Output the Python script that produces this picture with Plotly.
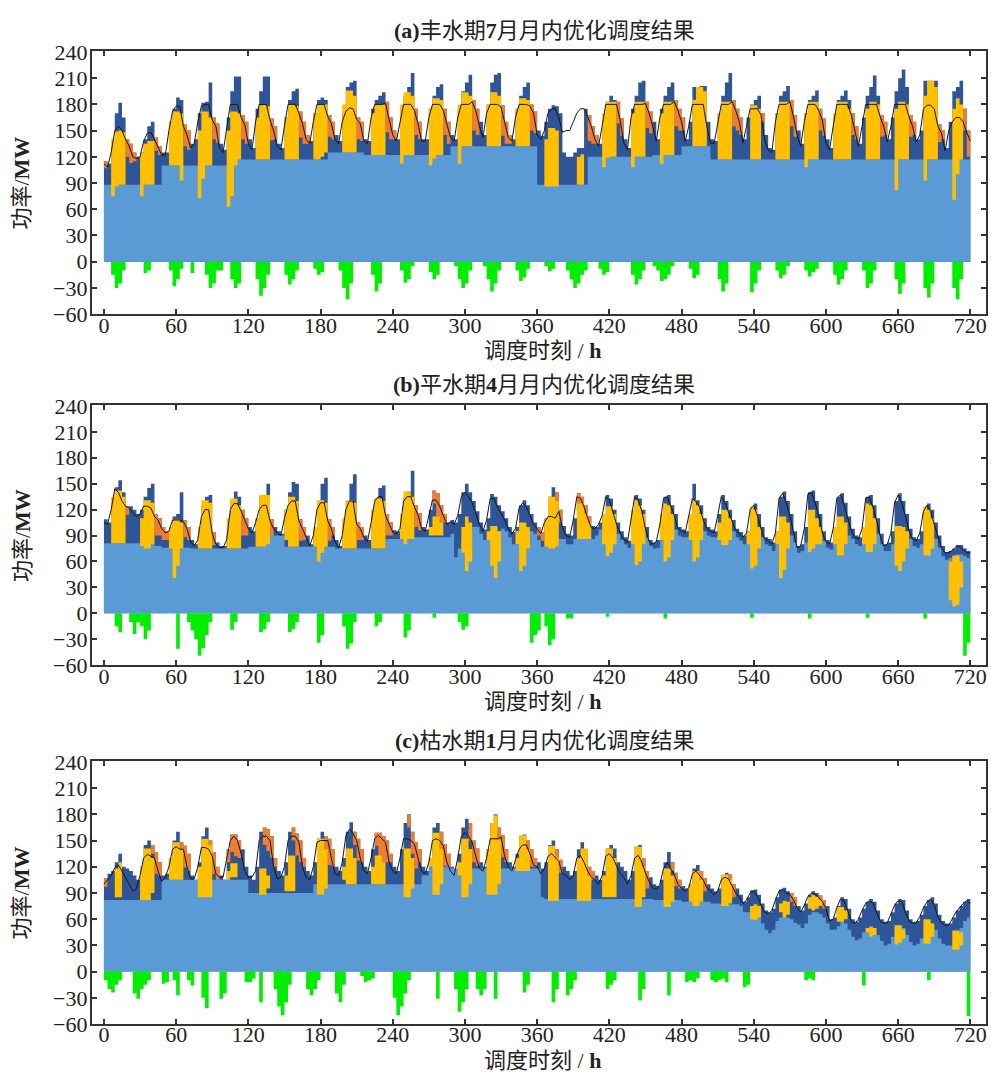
import numpy as np
import plotly.graph_objects as go

# ---------------- axes / labels ----------------
HOURS = list(range(0, 721, 3))          # sampling hours (3-h steps)
X_TICKS = [0, 60, 120, 180, 240, 300, 360, 420, 480, 540, 600, 660, 720]
Y_TICKS = [-60, -30, 0, 30, 60, 90, 120, 150, 180, 210, 240]
TITLES = ["<b>(a)</b>丰水期<b>7</b>月月内优化调度结果",
          "<b>(b)</b>平水期<b>4</b>月月内优化调度结果",
          "<b>(c)</b>枯水期<b>1</b>月月内优化调度结果"]
X_TITLE = "调度时刻 / <b>h</b>"
Y_TITLE = "功率/<b>MW</b>"

# ---------------- panel (a) July ----------------
# each row = one day, values at hour-of-day 0,3,6,9,12,15,18,21
A_TOTAL = [
 [115,112,130,170,182,165,140,135],[125,120,125,140,155,160,142,132],[125,125,160,175,188,185,157,150],
 [135,140,170,182,183,205,165,158],[135,128,165,195,212,212,168,160],[140,130,175,195,212,212,164,155],
 [135,130,165,185,195,198,172,160],[145,138,170,185,188,185,168,160],[145,138,170,200,205,207,165,160],
 [140,138,175,185,190,194,183,165],[150,140,170,190,200,216,175,160],[140,140,175,190,200,203,175,160],
 [145,140,175,195,205,214,185,175],[160,145,180,205,214,216,179,160],[145,140,175,190,200,205,180,172],
 [150,144,160,175,179,178,170,125],[120,120,125,130,130,175,168,155],[145,135,160,183,190,185,183,164],
 [140,130,175,190,205,207,183,172],[160,140,175,190,200,205,185,175],[165,140,160,200,200,201,201,160],
 [140,138,170,190,205,216,185,175],[165,140,165,180,185,190,170,145],[130,128,170,190,195,201,185,168],
 [150,135,170,185,190,196,175,164],[140,130,165,185,190,196,185,170],[155,135,165,190,200,213,190,168],
 [160,140,165,195,210,220,200,168],[160,140,150,207,207,207,207,157],[150,130,160,195,200,207,175,150]]
A_TOTAL_END = 140
A_BASE = [
 [88]*8,[88]*8,[110]*8,[110]*8,[110,110,110,110,117,117,117,117],[117]*8,[117]*8,
 [117,117,117,117,117,117,125,125],[125]*8,[122]*8,[122]*8,[122]*8,[132]*8,[132]*8,[132]*8,
 [88]*8,[88,88,88,88,88,88,120,120],[120]*8,[120]*8,[122]*8,[132]*8,
 [117]*8,[117]*8,[117]*8,[117]*8,[117]*8,[117]*8,[117]*8,[117]*8,[117]*8]
A_BASE_END = 117
A_YBOT = [
 [0,0,75,86,88,88,0,0],[0,0,75,88,88,88,0,0],[0,0,110,110,110,93,0,0],[0,0,73,95,110,110,0,0],
 [0,0,63,75,110,117,0,0],[0,0,117,117,117,117,0,0],[0,0,117,117,117,117,0,0],[0,0,117,117,120,125,0,0],
 [0,0,125,125,125,125,0,0],[0,0,122,122,122,122,0,0],[0,0,112,122,122,122,0,0],[0,0,110,118,122,122,0,0],
 [0,0,112,132,132,132,0,0],[0,0,132,132,132,132,0,0],[0,0,132,132,132,132,0,0],[0,0,86,86,86,86,0,0],
 [0,0,0,88,88,0,0,0],[0,0,108,119,120,120,0,0],[0,0,108,120,120,120,0,0],[0,0,112,122,122,122,0,0],
 [0,0,0,132,132,132,132,0],[0,0,117,117,117,117,0,0],[0,0,0,117,117,117,0,0],[0,0,117,117,117,117,0,0],
 [0,0,108,117,117,117,0,0],[0,0,117,117,117,117,117,0],[0,0,0,117,117,117,117,0],[0,0,0,82,117,117,117,0],
 [0,0,0,93,117,117,117,0],[0,0,0,71,100,117,0,0]]
A_YTOP = [
 [0,0,140,149,150,148,0,0],[0,0,125,135,138,138,0,0],[0,0,160,172,172,170,0,0],[0,0,150,172,172,165,0,0],
 [0,0,150,172,172,170,0,0],[0,0,165,179,180,178,0,0],[0,0,165,180,180,178,0,0],[0,0,170,180,180,180,0,0],
 [0,0,180,196,196,190,0,0],[0,0,170,180,180,180,0,0],[0,0,180,194,194,190,0,0],[0,0,175,187,187,185,0,0],
 [0,0,180,194,194,190,0,0],[0,0,180,194,194,190,0,0],[0,0,175,187,187,185,0,0],[0,0,140,153,153,150,0,0],
 [0,0,0,120,123,0,0,0],[0,0,170,183,183,183,0,0],[0,0,170,183,183,183,0,0],[0,0,170,183,183,183,0,0],
 [0,0,0,185,200,200,195,0],[0,0,170,183,183,183,0,0],[0,0,0,179,179,175,0,0],[0,0,170,183,183,183,0,0],
 [0,0,170,183,183,183,0,0],[0,0,170,183,183,183,175,0],[0,0,0,175,183,183,180,0],[0,0,0,175,183,183,180,0],
 [0,0,0,190,207,207,200,0],[0,0,0,175,187,180,0,0]]
A_ORG = [
 [8,0,0,0,0,0,20,22],[10,0,0,0,0,0,15,10],[0,0,0,0,0,0,25,22],[0,0,0,0,0,0,25,22],[0,0,0,0,0,0,28,25],
 [0,0,0,0,0,0,25,15],[0,0,0,0,0,0,30,25],[10,0,0,0,0,0,25,20],[0,0,0,0,0,0,25,22],[0,0,0,0,0,0,35,25],
 [10,0,0,0,0,0,30,20],[0,0,0,0,0,0,30,25],[0,0,0,0,0,0,35,30],[0,0,0,0,0,0,35,25],[10,0,0,0,0,0,30,25],
 [0,0,0,0,0,0,0,0],[0,0,0,0,0,0,30,20],[10,0,0,0,0,0,25,20],[0,0,0,0,0,0,30,25],[0,0,0,0,0,0,30,25],
 [15,0,0,0,0,0,0,0],[0,0,0,0,0,0,30,25],[20,0,0,0,0,0,10,0],[0,0,0,0,0,0,30,25],[0,0,0,0,0,0,25,20],
 [0,0,0,0,0,0,0,25],[15,0,0,0,0,0,0,25],[15,0,0,0,0,0,0,25],[15,0,0,0,0,0,0,20],[10,0,0,0,0,0,25,30]]
A_ORG_END = 30
A_LOAD = [
 [112,108,125,150,155,150,140,132],[120,118,120,138,147,148,140,130],[122,122,150,172,178,178,155,145],
 [130,135,160,178,180,180,162,155],[130,125,155,180,180,180,165,157],[135,128,160,180,180,180,162,150],
 [132,128,155,180,180,180,170,158],[140,135,160,180,180,180,166,158],[140,135,160,172,176,175,163,158],
 [138,135,165,180,180,180,181,163],[145,138,160,180,180,180,173,158],[138,138,165,180,180,180,173,158],
 [142,138,165,180,180,180,183,173],[155,142,170,180,180,180,177,158],[142,138,165,180,180,180,178,170],
 [145,140,150,170,175,175,165,148],[150,150,160,170,175,175,166,155],[140,132,155,180,180,180,180,162],
 [136,128,165,180,180,180,181,170],[155,138,165,180,180,180,183,173],[160,138,155,180,180,180,180,155],
 [136,135,160,180,180,180,183,173],[160,136,155,175,175,175,168,140],[128,125,160,180,180,180,183,166],
 [145,132,160,180,180,180,173,162],[136,128,155,180,180,180,180,168],[150,132,155,180,180,180,180,166],
 [155,137,155,180,180,180,180,166],[155,137,145,175,179,179,175,155],[147,127,150,160,165,165,160,148]]
A_LOAD_END = 138
A_GREEN = [
 [0,0,15,30,25,10,0,0],[0,0,0,13,10,0,0,0],[0,0,10,28,20,8,0,0],[13,0,0,0,15,30,25,10],
 [10,0,0,20,30,25,0,0],[0,0,20,39,30,15,0,0],[0,0,15,26,20,10,0,0],[0,0,8,15,12,0,0,0],
 [0,10,30,43,25,0,0,0],[0,0,15,34,25,0,0,0],[0,0,10,24,20,5,0,0],[0,0,12,20,15,0,0,0],
 [0,5,20,30,25,10,0,0],[0,5,20,34,25,10,0,0],[0,0,10,22,18,8,0,0],[0,0,5,11,8,0,0,0],
 [10,20,30,25,15,10,0,0],[0,8,15,12,0,0,0,0],[0,0,15,26,20,10,0,0],[5,10,22,20,15,5,0,0],
 [0,0,8,19,15,0,0,0],[0,0,20,34,25,0,0,0],[0,0,0,35,25,10,0,0],[0,0,10,19,15,5,0,0],
 [0,0,10,17,12,8,0,0],[0,0,15,26,20,10,0,0],[0,0,10,30,25,10,0,0],[0,0,0,20,37,25,0,0],
 [0,0,0,30,41,25,0,0],[0,0,0,30,43,20,0,0]]

# ---------------- panel (b) April ----------------
B_TOTAL = [
 [109,105,125,146,154,140,124,124],[120,115,120,135,145,150,115,110],[100,95,100,112,115,140,108,100],
 [85,80,90,125,135,137,94,82],[78,78,90,130,141,135,120,110],[100,95,110,135,137,150,109,100],
 [95,92,120,140,152,150,109,100],[90,80,95,130,150,157,109,100],[85,78,95,130,150,161,105,100],
 [90,85,110,133,145,148,115,105],[96,95,100,135,141,165,125,116],[100,97,120,142,139,125,115,105],
 [108,105,115,140,150,140,130,118],[105,97,110,138,135,125,118,110],[100,94,100,125,131,125,115,105],
 [100,94,110,135,146,140,120,101],[92,90,110,139,135,125,112,101],[100,105,115,137,133,120,105,95],
 [88,84,110,137,133,120,100,85],[82,85,105,135,137,125,115,100],[97,95,115,150,131,125,110,100],
 [97,95,115,137,130,120,108,98],[94,90,95,122,127,115,100,88],[86,82,95,135,141,130,115,95],
 [78,80,100,140,142,130,115,95],[85,82,100,135,139,128,112,98],[90,88,100,135,137,125,110,92],
 [80,82,95,130,139,130,115,98],[88,86,95,120,127,120,105,90],[78,71,72,75,79,79,75,72]]
B_TOTAL_END = 72
B_BASE = [
 [81]*8,[81,81,80,80,80,80,78,78],[76]*8,[75]*8,[75]*8,[77,77,77,77,77,90,90,90],
 [90,90,77,77,77,77,77,77],[77]*8,[75]*8,[75,75,75,75,75,75,86,86],[86,86,88,88,88,88,88,88],[88]*8,
 [92,65,75,85,90,95,100,100],[92,85,85,85,90,95,98,95],[88,80,80,80,85,90,95,92],
 [85,77,77,77,77,77,86,86],[80,80,86,86,86,86,86,86],[90,97,97,95,95,97,92,85],
 [80,76,85,90,92,95,88,78],[75,76,85,90,95,97,97,90],[88,88,90,95,97,97,95,90],
 [88,88,90,92,95,97,95,88],[84,80,82,85,88,90,88,80],[78,72,80,85,90,92,90,82],
 [70,72,82,88,92,95,92,84],[76,74,82,86,90,92,90,86],[80,78,84,88,90,92,92,80],
 [72,72,80,84,88,90,92,86],[78,76,80,84,86,88,86,76],[66,62,64,66,68,68,66,64]]
B_BASE_END = 64
B_YBOT = [
 [0,0,81,81,81,81,0,0],[0,0,78,75,75,80,0,0],[0,0,75,41,55,75,0,0],[0,0,75,75,75,75,0,0],
 [0,0,75,75,75,75,0,0],[0,0,77,77,77,80,0,0],[0,0,85,77,77,77,0,0],[0,0,77,60,70,77,0,0],
 [0,0,75,75,75,75,0,0],[0,0,75,75,75,75,0,0],[0,0,86,80,86,86,0,0],[0,0,90,90,90,90,0,0],
 [0,0,0,70,49,60,0,0],[0,0,85,55,41,60,0,0],[0,0,80,49,55,75,0,0],[0,0,77,75,75,77,0,0],
 [0,0,0,86,86,86,86,0],[0,0,80,66,70,80,0,0],[0,0,80,56,60,80,0,0],[0,0,85,60,65,85,0,0],
 [0,0,85,60,65,85,0,0],[0,0,85,79,79,85,0,0],[0,0,80,52,55,75,0,0],[0,0,80,41,50,75,0,0],
 [0,0,0,71,75,80,80,0],[0,0,80,67,67,80,0,0],[0,0,80,71,71,80,0,0],[0,0,0,55,49,60,75,0],
 [0,0,0,67,67,75,0,0],[0,0,15,8,10,30,0,0]]
B_YTOP = [
 [0,0,135,142,142,135,0,0],[0,0,110,131,131,128,0,0],[0,0,100,109,109,105,0,0],[0,0,100,131,131,128,0,0],
 [0,0,110,133,133,125,0,0],[0,0,110,137,137,137,0,0],[0,0,120,135,135,130,0,0],[0,0,100,131,131,128,0,0],
 [0,0,110,131,131,128,0,0],[0,0,120,133,133,130,0,0],[0,0,115,141,141,135,0,0],[0,0,100,112,112,105,0,0],
 [0,0,0,100,112,105,0,0],[0,0,95,101,101,95,0,0],[0,0,95,105,105,100,0,0],[0,0,110,135,135,130,0,0],
 [0,0,0,127,127,115,105,0],[0,0,115,124,124,115,0,0],[0,0,120,131,125,115,0,0],[0,0,115,127,125,115,0,0],
 [0,0,115,131,125,115,0,0],[0,0,105,120,120,110,0,0],[0,0,95,124,120,100,0,0],[0,0,95,112,112,105,0,0],
 [0,0,0,120,120,110,100,0],[0,0,100,112,112,105,0,0],[0,0,100,127,125,110,0,0],[0,0,0,101,101,100,95,0],
 [0,0,0,124,120,110,0,0],[0,0,60,67,67,60,0,0]]
B_ORG = [
 [0,0,0,0,0,0,10,0],[0,0,0,0,0,0,25,20],[15,10,0,0,0,0,20,15],[0,0,0,0,0,0,15,0],[0,0,0,0,0,0,30,20],
 [0,0,0,0,0,0,25,0],[0,0,0,0,0,0,25,15],[0,0,0,0,0,0,25,10],[0,0,0,0,0,0,20,15],[0,0,0,0,0,0,25,15],
 [0,0,0,0,0,0,25,20],[0,0,0,15,30,20,10,0],[0]*8,[0]*8,[0]*8,
 [10,10,0,0,0,10,15,0],[0,0,0,20,25,20,15,0],[0]*8,[0]*8,[0]*8,[0]*8,[0]*8,[0]*8,[0]*8,[0]*8,
 [0]*8,[0]*8,[0]*8,[0]*8,[0]*8]
B_ORG_END = 0
B_LOAD = [
 [105,103,120,144,140,130,124,122],[116,112,115,124,124,122,112,108],[98,93,95,108,108,108,106,98],
 [83,78,85,112,120,120,92,80],[76,76,85,120,127,127,118,108],[98,93,105,120,125,125,107,98],
 [93,90,110,125,130,130,107,98],[88,78,90,120,128,128,107,98],[83,76,90,120,130,130,103,98],
 [88,83,105,130,135,135,113,103],[94,92,98,130,135,135,123,114],[98,95,115,131,131,124,113,103],
 [106,103,113,135,140,135,128,116],[103,95,108,133,133,123,116,108],[98,92,98,122,128,123,113,103],
 [98,92,105,112,112,110,118,99],[90,88,108,135,133,123,110,99],[98,103,113,135,131,118,103,93],
 [86,82,108,135,131,118,98,83],[80,83,103,133,135,123,113,98],[95,93,113,133,129,123,108,98],
 [95,93,113,135,128,118,106,96],[92,88,93,120,125,113,98,86],[84,80,93,133,139,128,113,93],
 [76,78,98,138,140,128,113,93],[83,80,98,133,137,126,110,96],[88,86,98,133,135,123,108,90],
 [78,80,93,128,137,128,113,96],[86,84,93,118,125,118,103,88],[76,70,70,73,77,77,73,70]]
B_LOAD_END = 70
B_GREEN = [
 [0,0,0,15,22,0,0,10],[24,10,15,30,20,0,0,0],[0,0,0,0,41,0,0,10],[20,30,49,40,25,10,0,0],
 [0,0,0,19,10,0,0,0],[0,0,0,22,18,10,0,0],[0,0,0,22,18,10,0,0],[0,0,0,34,25,0,0,0],
 [0,0,15,41,35,10,0,0],[0,0,0,15,10,0,0,0],[0,0,0,28,20,0,0,0],[0,0,0,5,0,0,0,0],
 [0,0,10,19,15,0,0,0],[0]*8,[0,0,0,0,0,0,34,25],[20,0,15,37,30,0,0,0],[6,6,0,0,0,0,0,0],
 [0,0,0,4,0,0,0,0],[0]*8,[0,0,0,6,0,0,0,0],[0]*8,[0]*8,[0,0,0,5,0,0,0,0],[0]*8,
 [0,0,0,6,0,0,0,0],[0]*8,[0,0,0,5,0,0,0,0],[0]*8,[0,0,0,6,0,0,0,0],[0,0,0,0,0,0,49,34]]

# ---------------- panel (c) January ----------------
C_TOTAL = [
 [107,112,115,125,135,120,118,115],[110,105,120,145,150,145,137,125],[110,112,130,150,160,148,144,135],
 [110,105,125,155,165,150,137,120],[110,105,140,157,157,150,140,120],[110,105,120,160,165,163,155,130],
 [115,110,125,160,165,158,150,130],[115,110,125,152,160,155,152,140],[120,115,130,160,171,160,152,140],
 [120,115,140,159,159,155,150,135],[120,115,140,170,180,160,148,140],[120,115,130,165,170,160,146,135],
 [120,115,135,165,175,170,150,141],[125,120,140,170,180,165,156,140],[125,120,135,155,157,150,140,130],
 [125,118,125,145,150,140,128,120],[115,110,115,140,148,140,120,115],[110,105,115,141,145,141,125,120],
 [115,105,115,143,145,130,115,108],[100,98,105,125,137,125,113,105],[98,95,100,118,122,115,107,100],
 [95,92,95,110,113,111,100,95],[88,80,85,93,94,88,78,70],[68,72,85,94,96,92,90,85],
 [75,70,78,88,92,90,87,82],[75,60,62,75,85,83,72,60],[57,62,72,80,83,80,70,60],
 [57,58,68,78,83,82,70,60],[57,58,65,75,82,85,78,65],[58,55,55,62,70,75,80,83]]
C_TOTAL_END = 80
C_BASE = [
 [82]*8,[82]*8,[105]*8,[105]*8,[105]*8,[90]*8,[90]*8,[90,90,100,100,100,100,100,100],
 [100]*8,[100]*8,[100]*8,[110,110,120,120,120,120,120,120],[118]*8,[118]*8,[118]*8,
 [118,85,83,83,83,83,83,83],[83]*8,[83]*8,[83]*8,[82]*8,[80]*8,[78,78,78,78,77,77,77,77],
 [75,68,68,72,70,65,55,48],[44,48,58,62,62,62,60,56],[54,50,55,65,68,68,66,62],
 [55,48,48,52,57,55,48,40],[36,38,45,50,52,50,42,35],[30,32,40,48,52,50,42,34],
 [30,32,38,48,55,55,48,38],[32,30,30,35,42,50,58,62]]
C_BASE_END = 66
C_YBOT = [
 [0,0,0,85,85,0,0,0],[0,0,82,82,82,90,0,0],[0,0,105,105,105,105,0,0],[0,0,85,85,85,85,0,0],
 [0,0,105,108,108,0,0,0],[0,0,0,88,88,95,0,0],[0,0,92,92,92,0,0,0],[0,0,0,88,88,95,0,0],
 [0,0,105,100,100,100,0,0],[0,0,100,100,100,100,0,0],[0,0,0,85,85,95,0,0],[0,0,120,88,88,100,0,0],
 [0,0,110,85,85,100,0,0],[0,0,88,88,88,100,0,0],[0,0,115,115,115,115,0,0],[0,0,0,81,81,81,0,0],
 [0,0,0,81,81,81,81,0],[0,0,85,85,85,85,0,0],[0,0,0,74,74,85,0,0],[0,0,0,74,74,80,0,0],
 [0,0,80,75,75,80,0,0],[0,0,0,75,75,78,0,0],[0,0,0,60,59,62,0,0],[0,0,0,68,62,65,0,0],
 [0,0,0,72,70,72,75,0],[0,0,0,57,57,60,0,0],[0,0,0,45,40,42,0,0],[0,0,0,31,33,38,0,0],
 [0,0,0,32,32,40,0,0],[0,0,0,25,25,30,0,0]]
C_YTOP = [
 [0,0,0,118,125,0,0,0],[0,0,120,141,141,130,0,0],[0,0,130,148,148,140,0,0],[0,0,120,152,152,145,0,0],
 [0,0,115,124,124,0,0,0],[0,0,0,118,118,110,0,0],[0,0,110,133,133,0,0,0],[0,0,0,152,152,140,0,0],
 [0,0,120,141,141,130,0,0],[0,0,120,133,133,125,0,0],[0,0,0,141,141,130,0,0],[0,0,130,159,159,140,0,0],
 [0,0,125,152,152,140,0,0],[0,0,140,170,178,150,0,0],[0,0,130,156,156,140,0,0],[0,0,0,144,144,130,0,0],
 [0,0,0,130,141,141,110,0],[0,0,110,141,141,130,0,0],[0,0,0,143,143,120,0,0],[0,0,0,118,118,110,0,0],
 [0,0,100,115,115,105,0,0],[0,0,0,111,111,105,0,0],[0,0,0,75,77,75,0,0],[0,0,0,78,81,80,0,0],
 [0,0,0,85,88,86,82,0],[0,0,0,74,74,70,0,0],[0,0,0,50,51,50,0,0],[0,0,0,53,53,48,0,0],
 [0,0,0,60,60,55,0,0],[0,0,0,47,47,45,0,0]]
C_ORG = [
 [10,0,0,0,0,0,0,0],[0,0,0,0,0,10,25,15],[0,0,0,0,0,15,25,20],[0,0,0,0,0,15,25,15],
 [0,0,15,20,25,20,0,0],[0,0,0,0,20,25,25,10],[0,0,0,0,15,25,25,10],[0,0,0,0,0,20,30,20],
 [0,0,0,0,0,15,25,15],[0,0,0,15,30,30,25,10],[0,0,0,0,15,25,30,15],[0,0,0,0,0,25,25,15],
 [0,0,0,0,0,20,25,20],[0,0,0,0,20,30,25,15],[0,0,0,0,0,20,20,10],[0,0,0,0,0,15,15,0],
 [0,0,0,0,0,15,20,10],[0]*8,[0,0,0,0,0,15,20,0],[0,0,0,0,0,10,15,10],[0,0,0,0,0,10,15,0],
 [0,0,0,0,0,10,15,0],[0]*8,[0,0,0,0,0,0,10,10],[0,0,0,0,0,0,10,10],[0]*8,[0]*8,[0]*8,[0]*8,[0]*8]
C_ORG_END = 0
C_LOAD = [
 [100,105,110,119,122,115,108,100],[92,95,110,130,134,132,130,115],[103,108,120,140,143,140,140,120],
 [106,106,120,142,142,140,132,112],[108,108,130,150,155,150,135,115],[108,108,115,150,155,155,150,120],
 [106,108,120,150,155,155,148,120],[108,105,120,148,150,150,150,130],[112,110,125,155,163,158,150,130],
 [115,112,130,152,156,152,148,125],[115,112,130,152,152,150,146,130],[115,112,125,150,152,150,144,125],
 [115,110,130,155,159,155,148,132],[118,115,130,152,152,152,154,132],[120,115,128,140,145,145,135,122],
 [120,112,118,132,135,130,126,112],[110,105,110,130,133,125,115,108],[105,100,110,132,135,130,120,112],
 [108,100,110,130,133,125,113,103],[96,94,100,118,125,118,111,100],[95,92,96,112,115,110,105,96],
 [92,88,92,105,108,106,98,90],[85,78,82,90,92,86,76,68],[66,70,82,92,94,90,88,82],
 [73,68,76,86,90,88,85,80],[72,58,60,73,83,81,70,58],[55,60,70,78,81,78,68,58],
 [55,56,66,76,81,80,68,58],[55,56,63,73,80,83,76,63],[56,53,53,60,68,73,78,81]]
C_LOAD_END = 78
C_GREEN = [
 [10,20,24,15,10,0,0,0],[25,31,20,15,10,0,0,0],[14,12,0,10,27,0,0,10],[16,0,0,30,42,0,0,0],
 [31,25,0,0,0,0,0,12],[12,8,0,35,0,0,0,20],[40,50,35,15,0,0,0,0],[20,27,20,10,0,0,0,0],
 [25,35,15,0,0,0,0,5],[12,10,8,0,0,0,0,0],[30,50,40,25,10,0,0,0],[0,0,0,0,31,0,0,0],
 [0,20,46,35,20,0,0,20],[27,20,0,0,31,0,0,0],[0,0,0,0,24,15,0,0],[0,0,0,0,35,20,0,0],
 [27,20,10,0,0,0,0,0],[0,0,0,20,15,10,0,0],[0,0,0,0,33,20,0,0],[0,0,0,0,27,0,0,0],
 [0,12,10,12,8,0,0,0],[10,12,10,8,12,0,0,0],[0,18,15,0,0,0,0,0],[0]*8,
 [0,0,10,8,10,0,0,0],[0]*8,[0,0,16,0,0,0,0,0],[0]*8,[0,0,0,0,10,0,0,0],[0,0,0,0,0,0,0,51]]

# ---------------- helpers ----------------
def series(rows, end=0):
    assert len(rows) == 30 and all(len(r) == 8 for r in rows)
    return np.array([v for r in rows for v in r] + [end], dtype=float)

PANELS = [
    dict(total=series(A_TOTAL, A_TOTAL_END), base=series(A_BASE, A_BASE_END),
         ybot=series(A_YBOT), ytop=series(A_YTOP), org=series(A_ORG, A_ORG_END),
         load=series(A_LOAD, A_LOAD_END), green=series(A_GREEN)),
    dict(total=series(B_TOTAL, B_TOTAL_END), base=series(B_BASE, B_BASE_END),
         ybot=series(B_YBOT), ytop=series(B_YTOP), org=series(B_ORG, B_ORG_END),
         load=series(B_LOAD, B_LOAD_END), green=series(B_GREEN)),
    dict(total=series(C_TOTAL, C_TOTAL_END), base=series(C_BASE, C_BASE_END),
         ybot=series(C_YBOT), ytop=series(C_YTOP), org=series(C_ORG, C_ORG_END),
         load=series(C_LOAD, C_LOAD_END), green=series(C_GREEN)),
]

NAVY = "#2E5597"
LBLUE = "#5B9BD5"
ORANGE = "#ED7D31"
YELLOW = "#FFC000"
GREEN = "#00EE00"
BLACK = "#151515"
AXC = "#333333"
FONT = "Liberation Serif, Noto Sans CJK SC, serif"

W, H = 991, 1083
PX_L, PX_R = 92, 987
PANEL_PX = [(41, 310), (403, 669), (767, 1036)]

fig = go.Figure()
x = np.array(HOURS)

def add(i, y, fill=None, color=None, shape="hv", lw=0, lcolor=None):
    sfx = "" if i == 0 else str(i + 1)
    fig.add_trace(go.Scatter(
        x=x, y=y, mode="lines", xaxis="x" + sfx, yaxis="y" + sfx,
        line=dict(width=lw, shape=shape, color=lcolor or color or "rgba(0,0,0,0)"),
        fill=fill, fillcolor=color, hoverinfo="skip", showlegend=False))

for i, p in enumerate(PANELS):
    tot, base, org = p["total"], p["base"], p["org"]
    has_y = p["ytop"] > 0
    ylo = np.where(has_y, p["ybot"], base)
    yhi = np.where(has_y, p["ytop"], base)
    add(i, tot, fill="tozeroy", color=NAVY)            # navy total
    add(i, tot - org)                                  # orange band at top
    add(i, tot, fill="tonexty", color=ORANGE)
    add(i, base, fill="tozeroy", color=LBLUE)          # light-blue base
    add(i, ylo)                                        # yellow band
    add(i, yhi, fill="tonexty", color=YELLOW)
    add(i, -p["green"], fill="tozeroy", color=GREEN)   # green negative
    add(i, p["load"], shape="linear", lw=1, lcolor=BLACK)  # load line

axis_common = dict(
    ticks="inside", ticklen=5, tickwidth=1.5, tickcolor=AXC,
    showline=True, linewidth=2, linecolor=AXC, mirror="ticks",
    showgrid=False, zeroline=False,
    tickfont=dict(family=FONT, size=22, color="#222"),
)

layout = dict(width=W, height=H, margin=dict(l=0, r=0, t=0, b=0),
              paper_bgcolor="white", plot_bgcolor="white", showlegend=False)
annotations = []
for i, (top, bot) in enumerate(PANEL_PX):
    sfx = "" if i == 0 else str(i + 1)
    layout["xaxis" + sfx] = dict(axis_common, domain=[PX_L / W, PX_R / W], range=[-10, 733],
                                 tickvals=X_TICKS, anchor="y" + sfx, ticklabelstandoff=-10)
    layout["yaxis" + sfx] = dict(axis_common, domain=[1 - bot / H, 1 - top / H], range=[-60, 241],
                                 tickvals=Y_TICKS, anchor="x" + sfx, ticklabelstandoff=-2)
    annotations.append(dict(text=TITLES[i], x=545 / W, y=1 - (top - 21) / H, xref="paper", yref="paper",
                            showarrow=False, xanchor="center", yanchor="middle",
                            font=dict(family=FONT, size=22, color="#222")))
    annotations.append(dict(text=X_TITLE, x=543 / W, y=1 - (bot + 37) / H, xref="paper", yref="paper",
                            showarrow=False, xanchor="center", yanchor="middle",
                            font=dict(family=FONT, size=22, color="#222")))
    annotations.append(dict(text=Y_TITLE, x=22 / W, y=1 - ((top + bot) / 2) / H, xref="paper", yref="paper",
                            showarrow=False, xanchor="center", yanchor="middle", textangle=-90,
                            font=dict(family=FONT, size=22, color="#222")))
layout["annotations"] = annotations
fig.update_layout(**layout)
fig.write_html("out.html")
